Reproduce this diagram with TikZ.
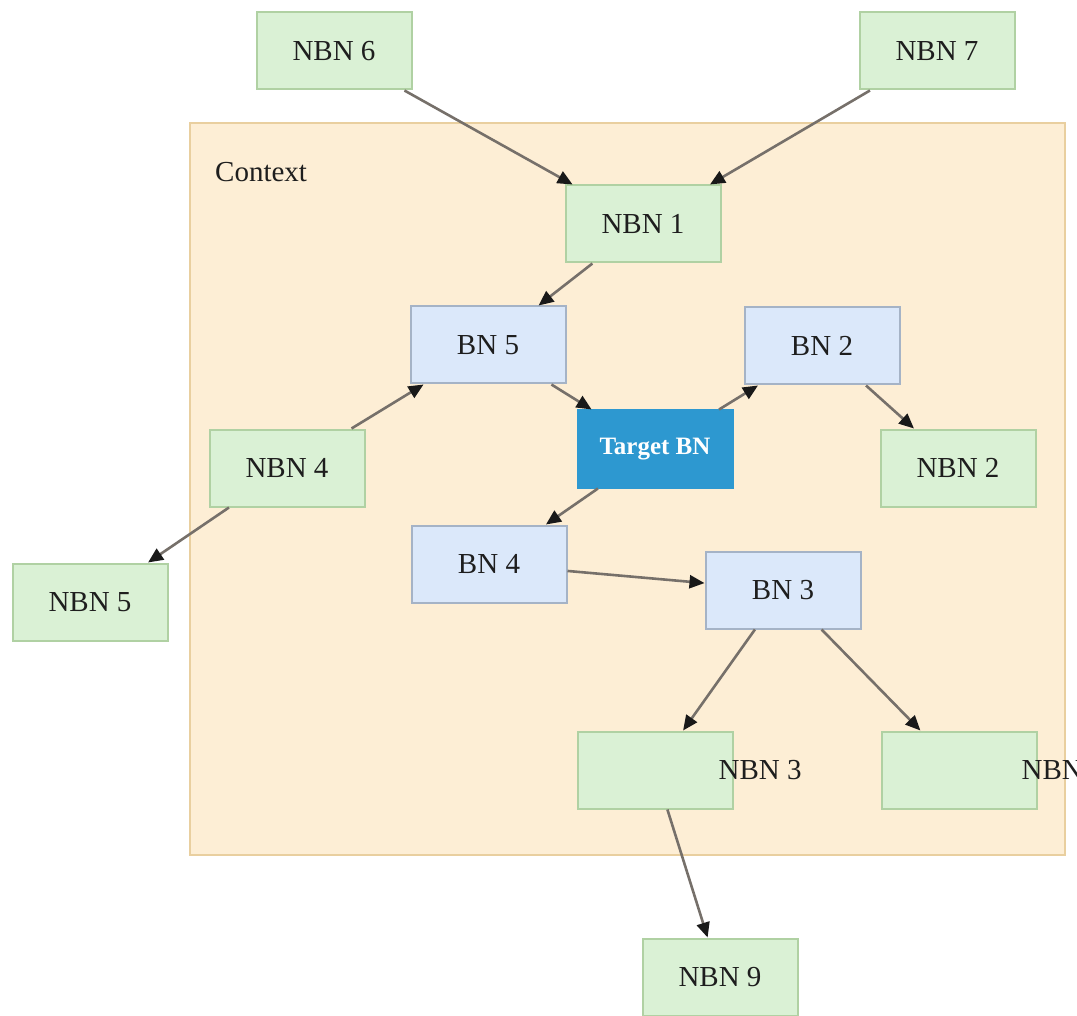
\documentclass[tikz,border=0pt]{standalone}
\usepackage{fontspec}
\setmainfont{Liberation Serif}
\usetikzlibrary{arrows.meta}

\definecolor{ctxfill}{HTML}{FDEED5}
\definecolor{ctxline}{HTML}{E9CF9F}
\definecolor{nbnfill}{HTML}{DAF1D5}
\definecolor{nbnline}{HTML}{B0D1A3}
\definecolor{bnfill}{HTML}{DBE8FA}
\definecolor{bnline}{HTML}{A5B3C6}
\definecolor{tgtfill}{HTML}{2D98D0}
\definecolor{edgegray}{HTML}{76706A}
\definecolor{txt}{HTML}{1E1E1E}

\tikzset{
  box/.style={rectangle, minimum width=155pt, minimum height=77pt, inner sep=0pt,
    line width=2pt, text=txt, font=\fontsize{29}{34}\selectfont},
  nbnbox/.style={box, fill=nbnfill, draw=nbnline},
  bnbox/.style={box, fill=bnfill, draw=bnline},
  tgtbox/.style={box, fill=tgtfill, draw=tgtfill, text=white,
    font=\fontsize{25}{30}\selectfont\bfseries},
  sidelabel/.style={anchor=west, inner sep=0pt, text=txt, font=\fontsize{29}{34}\selectfont},
  conn/.style={draw=edgegray, line width=2.6pt,
    -{Triangle[length=15pt, width=13pt, color=black!90]}},
}

\begin{document}
\begin{tikzpicture}[x=1pt, y=-1pt]
  \useasboundingbox (0,0) rectangle (1077,1016);
  \clip (0,0) rectangle (1077,1016);

  % context area
  \node[rectangle, fill=ctxfill, draw=ctxline, line width=2.2pt, inner sep=0pt,
        minimum width=875pt, minimum height=732pt] (context) at (627.5,489) {};
  \node[sidelabel] (ctxlabel) at (215,172) {Context};

  % nodes outside the context
  \node[nbnbox] (nbn6) at (334,51) {NBN 6};
  \node[nbnbox] (nbn7) at (937,51) {NBN 7};
  \node[nbnbox] (nbn5) at (90,602) {NBN 5};
  \node[nbnbox] (nbn9) at (720,977) {NBN 9};

  % nodes inside the context
  \node[nbnbox] (nbn1) at (643,224) {NBN 1};
  \node[bnbox]  (bn5)  at (488,345) {BN 5};
  \node[bnbox]  (bn2)  at (822,346) {BN 2};
  \node[tgtbox] (target) at (655,449) {Target BN};
  \node[nbnbox] (nbn4) at (287,468) {NBN 4};
  \node[nbnbox] (nbn2) at (958,468) {NBN 2};
  \node[bnbox]  (bn4)  at (489,564) {BN 4};
  \node[bnbox]  (bn3)  at (783,590) {BN 3};
  \node[nbnbox] (nbn3) at (655,770) {};
  \node[nbnbox] (nbn8) at (959,770) {};
  \node[sidelabel] (nbn3text) at ([xshift=-15pt]nbn3.east) {NBN 3};
  \node[sidelabel] (nbn8text) at ([xshift=-16pt]nbn8.east) {NBN};

  % connectors
  \draw[conn] (nbn6) -- (nbn1);
  \draw[conn] (nbn7) -- (nbn1);
  \draw[conn] (nbn1) -- (bn5);
  \draw[conn] (bn5) -- (target);
  \draw[conn] (target) -- (bn2);
  \draw[conn] (bn2) -- (nbn2);
  \draw[conn] (nbn4) -- (bn5);
  \draw[conn] (nbn4) -- (nbn5);
  \draw[conn] (target) -- (bn4);
  \draw[conn] (bn4) -- (bn3);
  \draw[conn] (bn3) -- (nbn3);
  \draw[conn] (bn3) -- (nbn8);
  \draw[conn] (nbn3) -- (nbn9);
\end{tikzpicture}
\end{document}
